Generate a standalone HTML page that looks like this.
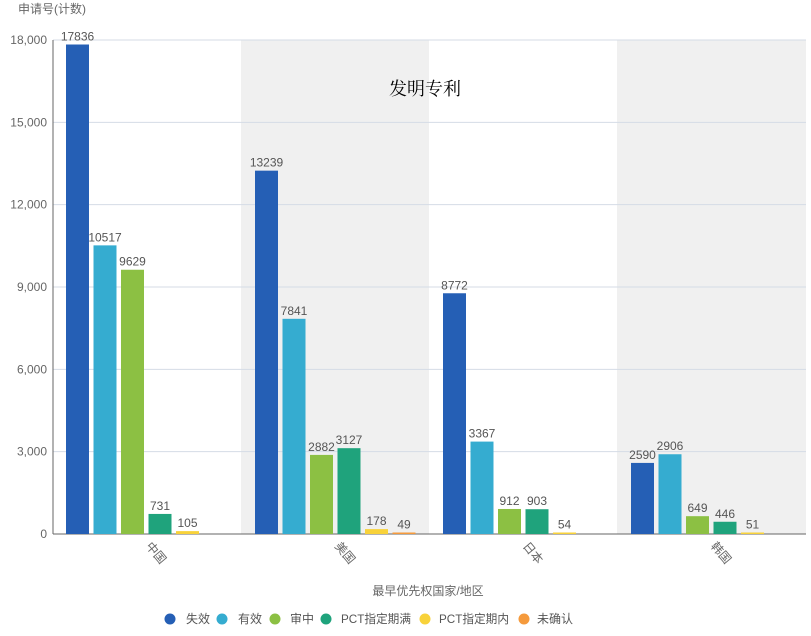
<!DOCTYPE html>
<html><head><meta charset="utf-8"><style>
body{margin:0;background:#fff;width:811px;height:631px;overflow:hidden}
svg{font-family:"Liberation Sans","Noto Sans CJK SC",sans-serif}
</style></head><body>
<svg id="s" width="811" height="631" xmlns="http://www.w3.org/2000/svg">
<rect x="241" y="40" width="188" height="494" fill="#f0f0f0"/>
<rect x="617" y="40" width="189" height="494" fill="#f0f0f0"/>
<text x="18" y="13" font-size="12" fill="#666">申请号(计数)</text>
<text x="389" y="95" font-size="18" fill="#000" font-family="Liberation Serif, Noto Serif CJK SC, serif">发明专利</text>
<text x="428" y="595" font-size="12" fill="#666" text-anchor="middle">最早优先权国家/地区</text>
</svg>
<script>
var s=document.getElementById('s'),NS='http://www.w3.org/2000/svg';
function el(t,a,txt){var e=document.createElementNS(NS,t);for(var k in a)e.setAttribute(k,a[k]);if(txt!=null)e.textContent=txt;s.appendChild(e);return e;}
var y0=534,h=494/18000;
[0,3000,6000,9000,12000,15000,18000].forEach(function(v){var y=y0-v*h;
 if(v>0)el('line',{x1:53,x2:806,y1:y,y2:y,stroke:'#d5dbe6','stroke-width':1});
 el('text',{x:47,y:y+4,'font-size':12,fill:'#666','text-anchor':'end'},v.toLocaleString('en-US'));});
el('line',{x1:53,x2:53,y1:40,y2:534,stroke:'#666'});
el('line',{x1:53,x2:806,y1:534,y2:534,stroke:'#666'});
var cols=['#255fb5','#35acd0','#8cc043','#1fa37c','#f8d23a','#f59a3c'];
var data=[[17836,10517,9629,731,105,0],[13239,7841,2882,3127,178,49],[8772,3367,912,903,54,0],[2590,2906,649,446,51,0]];
var names=['中国','美国','日本','韩国'];
var starts=[66,255,443,631];
data.forEach(function(g,i){g.forEach(function(v,j){if(!v)return;var x=starts[i]+j*27.5,bh=Math.max(v*h,1.5);
 el('rect',{x:x,y:y0-bh,width:23,height:bh,fill:cols[j]});
 el('text',{x:x+11.5,y:y0-bh-4,'font-size':12,fill:'#555','text-anchor':'middle'},v);});
 var cx=starts[i]+90;
 el('text',{x:cx,y:557,'font-size':12,fill:'#666','text-anchor':'middle',transform:'rotate(50 '+cx+' 553)'},names[i]);
});
var leg=[['失效',170,186,24],['有效',222,238,24],['审中',275,290,24],['PCT指定期满',326,341,70],['PCT指定期内',425,439,70],['未确认',524,537,36]];
leg.forEach(function(l,i){el('circle',{cx:l[1],cy:619,r:5.5,fill:cols[i]});el('text',{x:l[2],y:623,'font-size':12,fill:'#555',textLength:l[3],lengthAdjust:'spacingAndGlyphs'},l[0]);});
</script>
</body></html>
